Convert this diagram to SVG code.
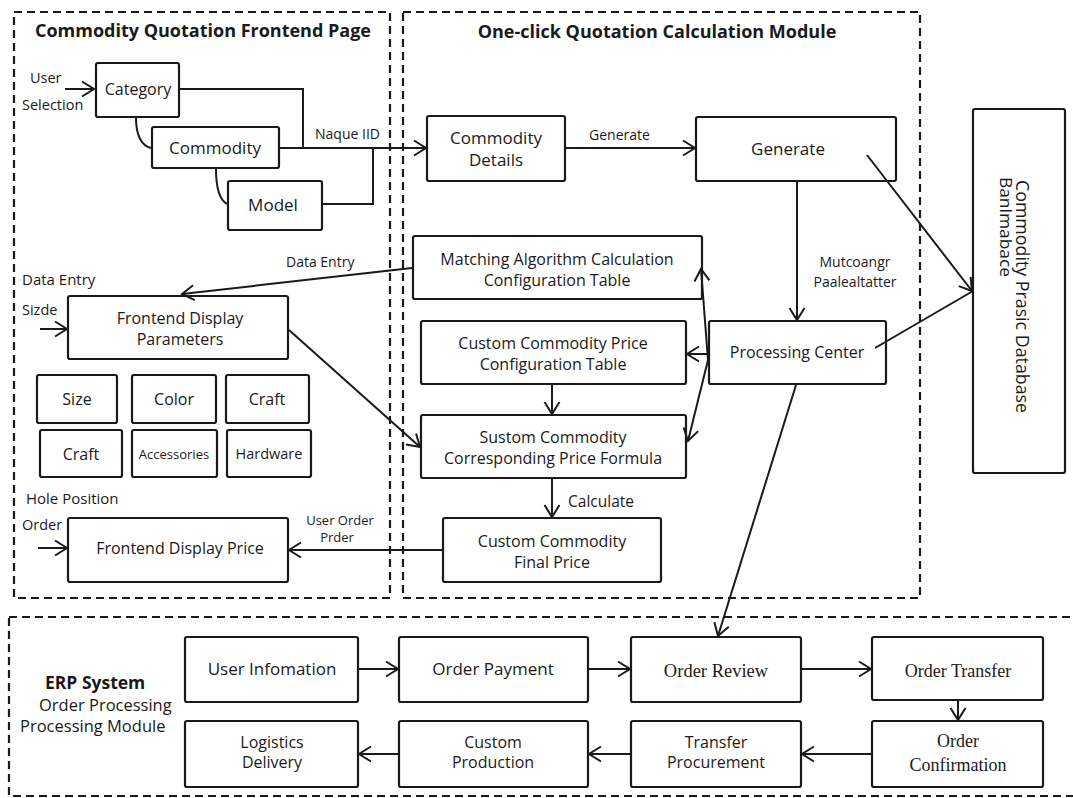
<svg xmlns="http://www.w3.org/2000/svg" width="1073" height="798" viewBox="0 0 1073 798">
<defs>
<marker id="arr" viewBox="-2 -9 16 18" refX="12" refY="0" markerWidth="16" markerHeight="18" markerUnits="userSpaceOnUse" orient="auto">
<path d="M0,-7.5 L12,0 L0,7.5" fill="none" stroke="#1a1a1a" stroke-width="2" stroke-linejoin="miter"/>
</marker>
<style>
.bx{fill:#fff;stroke:#1a1a1a;stroke-width:2.2}
.grp{fill:none;stroke:#1a1a1a;stroke-width:2.2;stroke-dasharray:8 5}
.ln{fill:none;stroke:#1a1a1a;stroke-width:2}
.t{font-family:"Open Sans","Noto Sans",sans-serif;fill:#1a1a1a;text-anchor:middle}
.ts{font-family:"Liberation Serif",serif;fill:#1a1a1a;text-anchor:middle}
.tl{font-family:"Open Sans","Noto Sans",sans-serif;fill:#1a1a1a}
.b{font-weight:bold}
</style>
</defs>
<rect width="1073" height="798" fill="#fff"/>

<g id="groups">
<rect class="grp" x="14" y="12" width="376" height="586"/>
<rect class="grp" x="403" y="12" width="517" height="586"/>
<rect class="grp" x="9" y="617" width="1080" height="179"/>
<text class="t b" x="203" y="37" font-size="18">Commodity Quotation Frontend Page</text>
<text class="t b" x="657" y="38" font-size="18">One-click Quotation Calculation Module</text>
</g>

<g id="category"><rect class="bx" x="96" y="63" width="83" height="54" rx="2"/><text class="t" x="138" y="95" font-size="16">Category</text></g>
<g id="commodity"><rect class="bx" x="152" y="127" width="127" height="41" rx="2"/><text class="t" x="215" y="154" font-size="17">Commodity</text></g>
<g id="model"><rect class="bx" x="228" y="181" width="94" height="49" rx="2"/><text class="t" x="273" y="211" font-size="17">Model</text></g>

<g id="commodity-details"><rect class="bx" x="427" y="116" width="138" height="65" rx="2"/><text class="t" x="496" y="144" font-size="17">Commodity</text><text class="t" x="496" y="166" font-size="17">Details</text></g>
<g id="generate"><rect class="bx" x="696" y="117" width="200" height="64" rx="2"/><text class="t" x="788" y="155" font-size="17">Generate</text></g>
<g id="database"><rect class="bx" x="973" y="109" width="92" height="364" rx="2"/>
<text class="tl" transform="translate(1016,180) rotate(90)" font-size="18" textLength="233" lengthAdjust="spacingAndGlyphs">Commodity Prasic Database</text>
<text class="tl" transform="translate(1000,177) rotate(90)" font-size="16" textLength="100" lengthAdjust="spacingAndGlyphs">Banlmabace</text></g>

<g id="matching"><rect class="bx" x="413" y="236" width="289" height="63" rx="2"/><text class="t" x="557" y="265" font-size="16">Matching Algorithm Calculation</text><text class="t" x="557" y="286" font-size="16">Configuration Table</text></g>
<g id="price-config"><rect class="bx" x="421" y="321" width="265" height="63" rx="2"/><text class="t" x="553" y="349" font-size="16">Custom Commodity Price</text><text class="t" x="553" y="370" font-size="16">Configuration Table</text></g>
<g id="processing-center"><rect class="bx" x="709" y="321" width="177" height="63" rx="2"/><text class="t" x="797" y="358" font-size="16">Processing Center</text></g>
<g id="formula"><rect class="bx" x="421" y="415" width="265" height="63" rx="2"/><text class="t" x="553" y="443" font-size="16">Sustom Commodity</text><text class="t" x="553" y="464" font-size="16">Corresponding Price Formula</text></g>
<g id="final-price"><rect class="bx" x="443" y="518" width="218" height="64" rx="2"/><text class="t" x="552" y="547" font-size="16">Custom Commodity</text><text class="t" x="552" y="568" font-size="16">Final Price</text></g>

<g id="fd-params"><rect class="bx" x="68" y="296" width="220" height="63" rx="2"/><text class="t" x="180" y="324" font-size="16">Frontend Display</text><text class="t" x="180" y="345" font-size="16">Parameters</text></g>
<g id="size"><rect class="bx" x="37" y="375" width="80" height="48" rx="2"/><text class="t" x="77" y="405" font-size="16">Size</text></g>
<g id="color"><rect class="bx" x="132" y="375" width="84" height="48" rx="2"/><text class="t" x="174" y="405" font-size="16">Color</text></g>
<g id="craft1"><rect class="bx" x="226" y="375" width="83" height="48" rx="2"/><text class="t" x="267" y="405" font-size="16">Craft</text></g>
<g id="craft2"><rect class="bx" x="40" y="430" width="82" height="47" rx="2"/><text class="t" x="81" y="460" font-size="16">Craft</text></g>
<g id="accessories"><rect class="bx" x="132" y="430" width="85" height="47" rx="2"/><text class="t" x="174" y="459" font-size="13">Accessories</text></g>
<g id="hardware"><rect class="bx" x="227" y="430" width="84" height="47" rx="2"/><text class="t" x="269" y="459" font-size="14.5">Hardware</text></g>
<g id="fd-price"><rect class="bx" x="68" y="518" width="220" height="64" rx="2"/><text class="t" x="180" y="554" font-size="16">Frontend Display Price</text></g>

<g id="erp-label">
<text class="tl b" x="45" y="689" font-size="17.5">ERP System</text>
<text class="tl" x="39" y="711" font-size="16.5">Order Processing</text>
<text class="tl" x="20" y="732" font-size="16.5">Processing Module</text>
</g>
<g id="user-info"><rect class="bx" x="185" y="637" width="173" height="65" rx="2"/><text class="t" x="272" y="675" font-size="17">User Infomation</text></g>
<g id="order-payment"><rect class="bx" x="399" y="637" width="189" height="65" rx="2"/><text class="t" x="493" y="675" font-size="17">Order Payment</text></g>
<g id="order-review"><rect class="bx" x="631" y="637" width="170" height="65" rx="2"/><text class="ts" x="716" y="677" font-size="18.5">Order Review</text></g>
<g id="order-transfer"><rect class="bx" x="872" y="637" width="171" height="63" rx="2"/><text class="ts" x="958" y="677" font-size="18">Order Transfer</text></g>
<g id="order-confirmation"><rect class="bx" x="872" y="721" width="171" height="66" rx="2"/><text class="ts" x="958" y="747" font-size="18">Order</text><text class="ts" x="958" y="771" font-size="18">Confirmation</text></g>
<g id="transfer-procurement"><rect class="bx" x="631" y="721" width="170" height="66" rx="2"/><text class="t" x="716" y="748" font-size="16">Transfer</text><text class="t" x="716" y="768" font-size="16">Procurement</text></g>
<g id="custom-production"><rect class="bx" x="399" y="721" width="189" height="66" rx="2"/><text class="t" x="493" y="748" font-size="16">Custom</text><text class="t" x="493" y="768" font-size="16">Production</text></g>
<g id="logistics"><rect class="bx" x="185" y="721" width="173" height="66" rx="2"/><text class="t" x="272" y="748" font-size="16">Logistics</text><text class="t" x="272" y="768" font-size="16">Delivery</text></g>

<g id="connectors">
<path class="ln" d="M65,89 H94" marker-end="url(#arr)"/>
<path class="ln" d="M179,89 H303 V148"/>
<path class="ln" d="M279,148 H426" marker-end="url(#arr)"/>
<path class="ln" d="M322,204 H373 V148"/>
<path class="ln" d="M136,118 C136,136 142,146 151,148"/>
<path class="ln" d="M216,169 C216,188 220,200 227,204"/>
<path class="ln" d="M565,148 H695" marker-end="url(#arr)"/>
<path class="ln" d="M867,155 L972,291" marker-end="url(#arr)"/>
<path class="ln" d="M797,182 V320" marker-end="url(#arr)"/>
<path class="ln" d="M875,348 L973,291"/>
<path class="ln" d="M709,354 H687" marker-end="url(#arr)"/>
<path class="ln" d="M708,360 L701,269" marker-end="url(#arr)"/>
<path class="ln" d="M708,360 L688,441" marker-end="url(#arr)"/>
<path class="ln" d="M552,385 V414" marker-end="url(#arr)"/>
<path class="ln" d="M552,479 V517" marker-end="url(#arr)"/>
<path class="ln" d="M442,550 H289" marker-end="url(#arr)"/>
<path class="ln" d="M412,268 L182,294" marker-end="url(#arr)"/>
<path class="ln" d="M289,330 L420,447" marker-end="url(#arr)"/>
<path class="ln" d="M40,329 H67" marker-end="url(#arr)"/>
<path class="ln" d="M38,548 H67" marker-end="url(#arr)"/>
<path class="ln" d="M796,385 L718,636" marker-end="url(#arr)"/>
<path class="ln" d="M359,669 H398" marker-end="url(#arr)"/>
<path class="ln" d="M589,669 H630" marker-end="url(#arr)"/>
<path class="ln" d="M802,669 H871" marker-end="url(#arr)"/>
<path class="ln" d="M958,701 V720" marker-end="url(#arr)"/>
<path class="ln" d="M871,754 H802" marker-end="url(#arr)"/>
<path class="ln" d="M630,754 H589" marker-end="url(#arr)"/>
<path class="ln" d="M398,754 H359" marker-end="url(#arr)"/>
<text class="tl" x="315" y="139" font-size="14">Naque IID</text>
<text class="tl" x="589" y="140" font-size="14">Generate</text>
<text class="tl" x="286" y="267" font-size="14">Data Entry</text>
<text class="t" x="855" y="267" font-size="14">Mutcoangr</text>
<text class="t" x="855" y="287" font-size="14">Paalealtatter</text>
<text class="tl" x="568" y="507" font-size="15.5">Calculate</text>
<text class="t" x="340" y="525" font-size="13">User Order</text>
<text class="t" x="337" y="542" font-size="13">Prder</text>
<text class="tl" x="30" y="83" font-size="14.5">User</text>
<text class="tl" x="22" y="110" font-size="14.5">Selection</text>
<text class="tl" x="22" y="285" font-size="15">Data Entry</text>
<text class="tl" x="22" y="315" font-size="14.5">Sizde</text>
<text class="tl" x="26" y="504" font-size="15">Hole Position</text>
<text class="tl" x="22" y="530" font-size="14.5">Order</text>
</g>
</svg>
